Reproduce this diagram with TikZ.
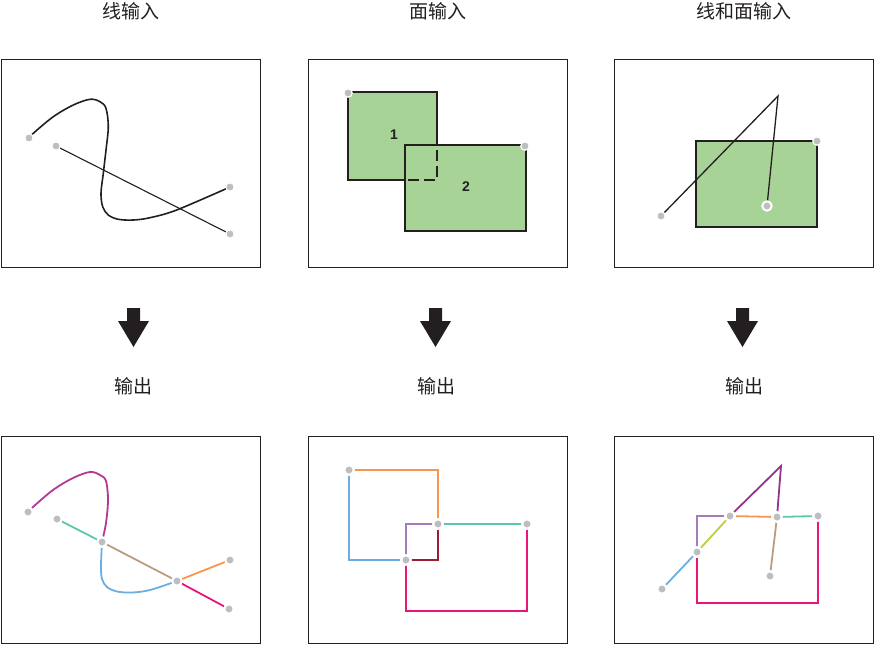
\documentclass[tikz,border=0pt]{standalone}
\usepackage{fontspec}
\setmainfont{Noto Sans}
\newfontfamily\cjk{Noto Sans CJK SC}
\newfontfamily\numfont{Liberation Sans}
\definecolor{dotgray}{HTML}{BDBEC0}
\definecolor{fillgreen}{HTML}{A7D397}
\definecolor{inkc}{HTML}{231F20}
\definecolor{cMag}{HTML}{B53796}
\definecolor{cTeal}{HTML}{5CC6AC}
\definecolor{cTan}{HTML}{B89E7E}
\definecolor{cBlue}{HTML}{6CAEE0}
\definecolor{cOrange}{HTML}{F8964C}
\definecolor{cPink}{HTML}{EB1479}
\definecolor{cDarkRed}{HTML}{9E1C33}
\definecolor{cLPurple}{HTML}{A57CB7}
\definecolor{cLime}{HTML}{BBD135}
\definecolor{cDPurple}{HTML}{93358F}
\pgfdeclarelayer{bg}
\pgfsetlayers{bg,main}
\begin{document}
\begin{tikzpicture}[x=1pt,y=-1pt,
  frame/.style={draw=inkc, line width=0.9pt},
  title/.style={font=\cjk\fontsize{19}{19}\selectfont, text=inkc, inner sep=0pt},
  numlabel/.style={font=\numfont\bfseries\fontsize{14}{14}\selectfont, text=inkc, inner sep=0pt},
  dot/.style={circle, fill=dotgray, draw=white, line width=1.2pt, inner sep=0pt, minimum size=8.4pt},
  cdot/.style={dot, line width=2.2pt, minimum size=9.6pt},
  ringdot/.style={dot, line width=2pt, minimum size=9.4pt},
  blk/.style={draw=inkc, line width=1.6pt, line join=round},
  thin/.style={draw=inkc, line width=1.1pt},
  rectbox/.style={fill=fillgreen, draw=inkc, line width=1.6pt},
  col/.style={line width=1.8pt},
  bigarrow/.style={fill=inkc, draw=none}
]
\useasboundingbox (0,0) rectangle (875,645);

% ---------- titles ----------
\node[title] (t1) at (130.5,11) {线输入};
\node[title] (t2) at (437.5,11) {面输入};
\node[title] (t3) at (743.5,11) {线和面输入};
\node[title] (o1) at (133,386) {输出};
\node[title] (o2) at (436,386) {输出};
\node[title] (o3) at (744,386) {输出};

% ---------- frames ----------
\draw[frame] (1,59) rectangle (260,267);
\draw[frame] (308,59) rectangle (567,267);
\draw[frame] (614,59) rectangle (873,267);
\draw[frame] (1,436) rectangle (260,643);
\draw[frame] (308,436) rectangle (567,643);
\draw[frame] (614,436) rectangle (873,643);

% ---------- arrows ----------
\foreach \cx in {133.5,435.5,742.5}{
  \fill[bigarrow] (\cx-6.5,308) -- (\cx+6.5,308) -- (\cx+6.5,321) -- (\cx+15.5,321)
     -- (\cx,347) -- (\cx-15.5,321) -- (\cx-6.5,321) -- cycle;
}

% ================= panel 1 top =================
\node[dot] (a1) at (29,138) {};
\node[dot] (b1) at (56,146) {};
\node[dot] (e1) at (230,187) {};
\node[dot] (f1) at (230,234) {};
\begin{pgfonlayer}{bg}
\draw[blk] plot[smooth, tension=0.55] coordinates {(a1.center) (33.3,133.3) (53.3,116.7) (73.3,105) (90,99.3) (100,101.7) (106,108.3) (108.3,126.7) (106,150) (103.3,173.3) (101,193.3) (102.7,206.7) (108.3,215) (118.3,219.3) (133.3,220) (150,217.7) (176.7,210) (e1.center)};
\draw[thin] (b1.center) -- (f1.center);
\end{pgfonlayer}

% ================= panel 2 top =================
\node[dot] (g1) at (348,93) {};
\node[dot] (g2) at (525,146) {};
\node[numlabel] (n1) at (394,135) {1};
\node[numlabel] (n2) at (466,187) {2};
\begin{pgfonlayer}{bg}
\draw[rectbox] (348,92) rectangle (437,180);
\draw[rectbox] (405,145) rectangle (526,231);
\draw[draw=inkc, line width=1.6pt, dash pattern=on 11pt off 5pt, dash phase=-3pt] (437,147) -- (437,180) -- (405,180);
\end{pgfonlayer}

% ================= panel 3 top =================
\node[dot] (h1) at (661,216) {};
\node[dot] (h2) at (817,141) {};
\node[ringdot] (h3) at (767,206) {};
\coordinate (hp) at (778,96);
\begin{pgfonlayer}{bg}
\draw[rectbox] (696,141) rectangle (817,227);
\draw[thin, line width=1.3pt] (h1.center) -- (hp) -- (h3.center);
\end{pgfonlayer}

% ================= panel 1 bottom =================
\node[cdot] (a) at (28,512) {};
\node[cdot] (b) at (57,519) {};
\node[cdot] (c) at (102,542) {};
\node[cdot] (d) at (177,581) {};
\node[cdot] (e) at (230,560) {};
\node[cdot] (f) at (229,609) {};
\begin{pgfonlayer}{bg}
\draw[col, cMag] plot[smooth, tension=0.55] coordinates {(a.center) (33,507) (53,490) (73,478) (90,472) (100,475) (106,481) (108,500) (106,523) (c.center)};
\draw[col, cBlue] plot[smooth, tension=0.55] coordinates {(c.center) (101,566) (102,579) (107,587) (117,591.5) (132,592.5) (150,590) (d.center)};
\draw[col, cTeal] (b.center) -- (c.center);
\draw[col, cTan] (c.center) -- (d.center);
\draw[col, cOrange] (d.center) -- (e.center);
\draw[col, cPink] (d.center) -- (f.center);
\end{pgfonlayer}

% ================= panel 2 bottom =================
\node[cdot] (p) at (349,470) {};
\node[cdot] (q) at (438,524) {};
\node[cdot] (r) at (527,524) {};
\node[cdot] (s) at (406,560) {};
\begin{pgfonlayer}{bg}
\draw[col, cOrange] (p.center) -| (q.center);
\draw[col, cBlue] (p.center) |- (s.center);
\draw[col, cLPurple] (q.center) -| (s.center);
\draw[col, cDarkRed] (q.center) |- (s.center);
\draw[col, cTeal] (q.center) -- (r.center);
\draw[col, cPink] (r.center) -- (527,611) -| (s.center);
\end{pgfonlayer}

% ================= panel 3 bottom =================
\node[cdot] (A) at (662,589) {};
\node[cdot] (B) at (697,552) {};
\node[cdot] (C) at (730,516) {};
\node[cdot] (D) at (777,517) {};
\node[cdot] (E) at (818,516) {};
\node[cdot] (F) at (770,576) {};
\coordinate (apex) at (781,466);
\begin{pgfonlayer}{bg}
\draw[col, cBlue] (A.center) -- (B.center);
\draw[col, cLime] (B.center) -- (C.center);
\draw[col, cLPurple] (B.center) |- (C.center);
\draw[col, cDPurple] (C.center) -- (apex) -- (D.center);
\draw[col, cOrange] (C.center) -- (D.center);
\draw[col, cTeal] (D.center) -- (E.center);
\draw[col, cTan] (D.center) -- (F.center);
\draw[col, cPink] (E.center) -- (818,603) -| (B.center);
\end{pgfonlayer}
\end{tikzpicture}
\end{document}
